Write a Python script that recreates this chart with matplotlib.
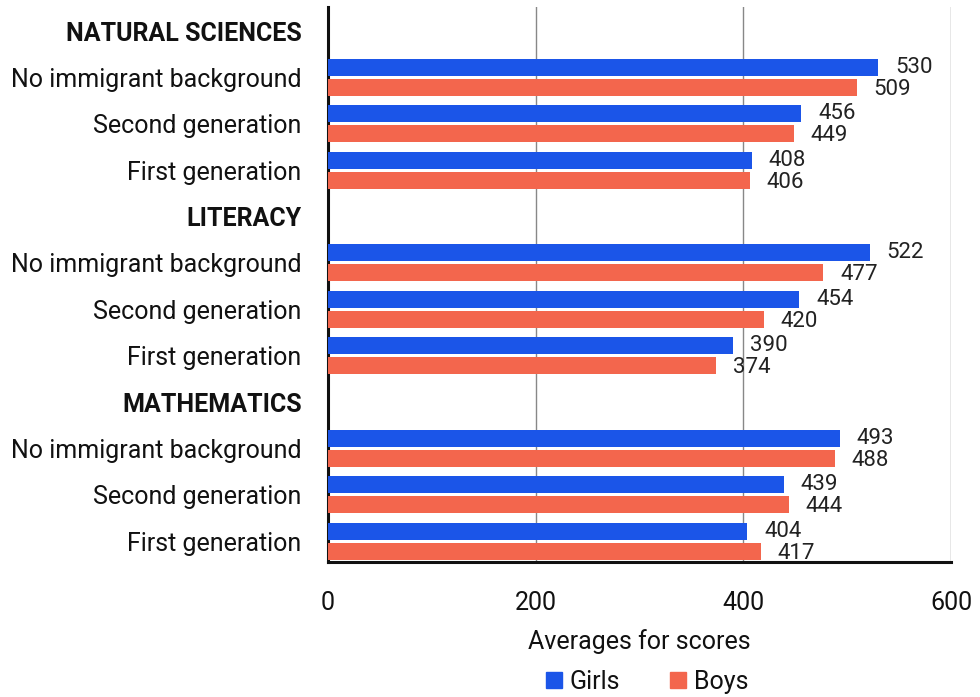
import matplotlib
matplotlib.use("Agg")
import matplotlib.pyplot as plt
from matplotlib.patches import Patch
import numpy as np

plt.rcParams['font.family'] = ['Roboto', 'DejaVu Sans']

sections = ["NATURAL SCIENCES", "LITERACY", "MATHEMATICS"]
groups = ["No immigrant background", "Second generation", "First generation"]
girls = [[530, 456, 408], [522, 454, 390], [493, 439, 404]]
boys = [[509, 449, 406], [477, 420, 374], [488, 444, 417]]
xticks = [0, 200, 400, 600]
blue = "#1b55e8"
coral = "#f3664d"

fig = plt.figure(figsize=(9.8, 6.97), dpi=100)
ax = fig.add_axes([0.3347, 0.1937, 0.9704 - 0.3347, 0.98996 - 0.1937])

labels, pos, gvals, bvals, bold = [], [], [], [], []
p = 0
for s, sec in enumerate(sections):
    labels.append(sec); bold.append(True); p += 1
    for g, grp in enumerate(groups):
        labels.append(grp); bold.append(False)
        pos.append(p); gvals.append(girls[s][g]); bvals.append(boys[s][g])
        p += 1

pos = np.array(pos, dtype=float)
h = 0.37
off = 0.215
ax.barh(pos - off, gvals, height=h, color=blue, zorder=3)
ax.barh(pos + off, bvals, height=h, color=coral, zorder=3)

fs = 18
vfs = 16
for y, gv, bv in zip(pos, gvals, bvals):
    ax.annotate(str(gv), (gv, y - off), xytext=(12, 0), textcoords="offset points",
                va="center", ha="left", fontsize=vfs, color="#222222")
    ax.annotate(str(bv), (bv, y + off), xytext=(12, -1.5), textcoords="offset points",
                va="center", ha="left", fontsize=vfs, color="#222222")

ax.set_yticks(range(len(labels)))
ax.set_yticklabels(labels, fontsize=fs, color="#111111")
for t, b in zip(ax.get_yticklabels(), bold):
    if b:
        t.set_fontweight("bold")
ax.tick_params(axis="y", length=0, pad=19)
ax.set_ylim(11.45, -0.518)

ax.set_xlim(0, 600)
ax.set_xticks(xticks)
ax.set_xticklabels([str(v) for v in xticks], fontsize=fs, color="#111111")
ax.tick_params(axis="x", length=0, pad=21)
ax.grid(axis="x", color="#888888", linewidth=1.0, zorder=0)
ax.set_axisbelow(True)
ax.set_xlabel("Averages for scores", fontsize=fs, labelpad=10, color="#111111")

for sp in ["top", "right"]:
    ax.spines[sp].set_visible(False)
ax.spines["left"].set_linewidth(2.2)
ax.spines["bottom"].set_linewidth(2.2)
ax.spines["left"].set_color("#111111")
ax.spines["bottom"].set_color("#111111")

handles = [Patch(color=blue, label="Girls"), Patch(color=coral, label="Boys")]
fig.legend(handles=handles, loc="center", bbox_to_anchor=(0.66, 0.022), ncol=2,
           frameon=False, fontsize=fs, handlelength=0.65, handleheight=0.65,
           handletextpad=0.3, columnspacing=2.0, labelcolor="#111111")

fig.savefig("out.png", dpi=100, facecolor="white")
